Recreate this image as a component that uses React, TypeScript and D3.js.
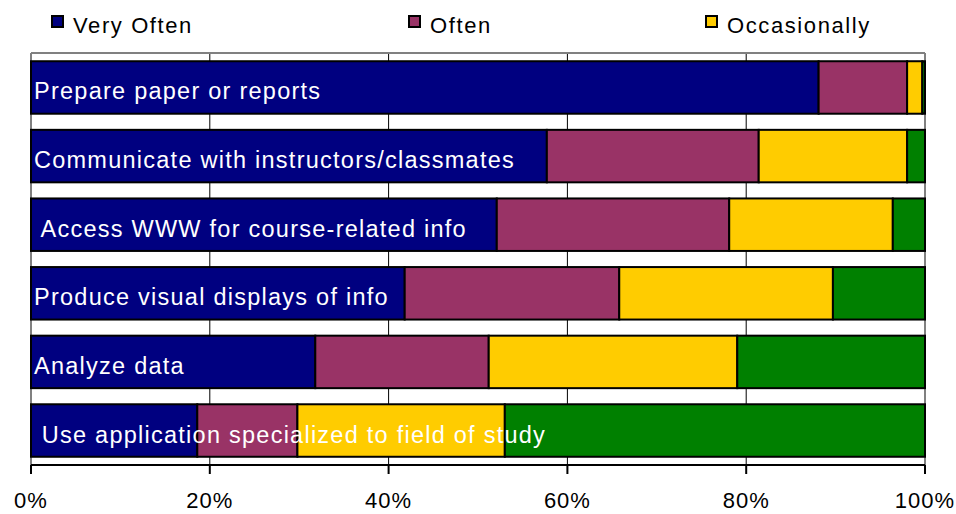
import React from "react";
import * as d3 from "d3";

const categories = [
  "Prepare paper or reports",
  "Communicate with instructors/classmates",
  " Access WWW for course-related info",
  "Produce visual displays of info",
  "Analyze data",
  " Use application specialized to field of study",
];
const seriesNames = ["Very Often", "Often", "Occasionally", "Rarely"];
const veryOften = [0.881, 0.577, 0.521, 0.418, 0.318, 0.186];
const often = [0.099, 0.237, 0.26, 0.24, 0.194, 0.112];
const occasionally = [0.017, 0.166, 0.183, 0.239, 0.278, 0.232];
const rarely = [0.003, 0.02, 0.036, 0.103, 0.21, 0.47];
const colors = ["#000080", "#993366", "#FFCC00", "#008000"];
const ticks = [0, 0.2, 0.4, 0.6, 0.8, 1];

export default function App() {
  const W = 956, H = 514;
  const left = 31, right = 925, top = 53, bottom = 465;
  const x = d3.scaleLinear().domain([0, 1]).range([left, right]);
  const y = d3.scaleBand().domain(categories).range([top, bottom]).paddingInner(0.235).paddingOuter(0.12);
  const series = [veryOften, often, occasionally, rarely];
  const font = "Arial, 'Liberation Sans', sans-serif";
  const legendX = [51, 408, 705];

  return (
    <svg width={W} height={H} style={{ position: "absolute", left: 0, top: 0 }} fontFamily={font}>
      <rect width={W} height={H} fill="#fff" />
      {/* gridlines */}
      {ticks.map((t) => (
        <line key={"g" + t} x1={x(t)} x2={x(t)} y1={top} y2={bottom}
          stroke={t === 0 || t === 1 ? "#808080" : "#000"} strokeWidth={t === 0 || t === 1 ? 2 : 1} />
      ))}
      <line x1={left} x2={right} y1={top} y2={top} stroke="#808080" strokeWidth={2} />
      {/* bars */}
      {categories.map((c, i) => {
        let acc = 0;
        return (
          <g key={c}>
            {series.map((s, k) => {
              const x0 = x(acc);
              acc += s[i];
              const x1 = x(acc);
              return (
                <rect key={k} x={x0} y={y(c)!} width={Math.max(0, x1 - x0)} height={y.bandwidth()}
                  fill={colors[k]} stroke="#000" strokeWidth={2} />
              );
            })}
            <text x={x(0) + 3} y={y(c)! + y.bandwidth() / 2 + 12} fill="#fff" fontSize={23.5}
              letterSpacing={1.25} style={{ whiteSpace: "pre" }}>{c}</text>
          </g>
        );
      })}
      {/* axis */}
      <line x1={left} x2={right} y1={bottom} y2={bottom} stroke="#000" strokeWidth={2} />
      {ticks.map((t) => (
        <g key={"t" + t}>
          <line x1={x(t)} x2={x(t)} y1={bottom} y2={bottom + 9} stroke="#000" strokeWidth={2} />
          <text x={x(t)} y={508} textAnchor="middle" fontSize={22} letterSpacing={1}>
            {d3.format(".0%")(t)}
          </text>
        </g>
      ))}
      {/* legend */}
      {seriesNames.slice(0, 3).map((n, k) => (
        <g key={n}>
          <rect x={legendX[k] + 1} y={16} width={11} height={11} fill={colors[k]} stroke="#000" strokeWidth={2} />
          <text x={legendX[k] + 22} y={33} fontSize={22} letterSpacing={1.6}>{n}</text>
        </g>
      ))}
    </svg>
  );
}
